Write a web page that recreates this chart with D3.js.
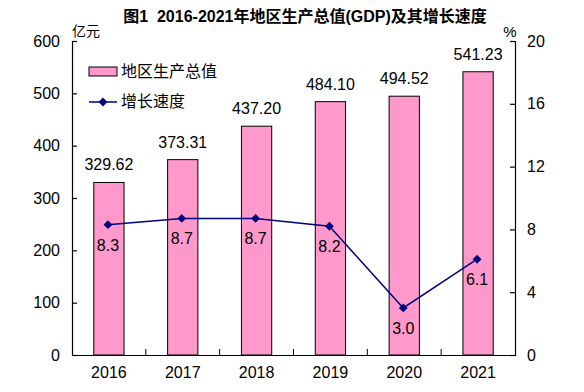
<!DOCTYPE html>
<html>
<head>
<meta charset="utf-8">
<script src="https://cdn.jsdelivr.net/npm/d3@7"></script>
<style>
body { margin: 0; background: #fff; }
text { font-family: "Liberation Sans", Arial, "Noto Sans CJK SC", sans-serif; }
.cjk { font-family: "Liberation Sans", "Noto Sans CJK SC", sans-serif; white-space: pre; }
</style>
</head>
<body>
<div id="chart"></div>
<script>
// data
const years = ["2016", "2017", "2018", "2019", "2020", "2021"];
const gdp = [329.62, 373.31, 437.20, 484.10, 494.52, 541.23];
const growth = [8.3, 8.7, 8.7, 8.2, 3.0, 6.1];
const leftTicks = [0, 100, 200, 300, 400, 500, 600];
const rightTicks = [0, 4, 8, 12, 16, 20];

var w = 584, h = 392;
var plotL = 72, plotR = 515, plotT = 41, plotB = 355;

var svg = d3.select("#chart").append("svg")
    .attr("width", w)
    .attr("height", h);

var x = d3.scaleBand().domain(years).range([plotL, plotR]).padding(0);
var yL = d3.scaleLinear().domain([0, 600]).range([plotB, plotT]);
var yR = d3.scaleLinear().domain([0, 20]).range([plotB, plotT]);
var barW = x.bandwidth() * 0.41;

// title
svg.append("text")
    .attr("class", "cjk")
    .attr("x", 305).attr("y", 22)
    .attr("text-anchor", "middle")
    .attr("font-size", 16).attr("font-weight", "bold")
    .text("图1  2016-2021年地区生产总值(GDP)及其增长速度");

// unit labels
svg.append("text").attr("class", "cjk")
    .attr("x", 72).attr("y", 36)
    .attr("font-size", 14)
    .text("亿元");
svg.append("text")
    .attr("x", 510).attr("y", 37)
    .attr("text-anchor", "middle")
    .attr("font-size", 15)
    .text("%");

// bars
svg.selectAll("rect.bar")
    .data(gdp)
    .enter().append("rect")
    .attr("class", "bar")
    .attr("x", (d, i) => x(years[i]) + x.bandwidth() / 2 - barW / 2)
    .attr("y", d => yL(d))
    .attr("width", barW)
    .attr("height", d => yL(0) - yL(d))
    .attr("fill", "#ff99cc")
    .attr("stroke", "#000")
    .attr("stroke-width", 1);

svg.selectAll("text.barlab")
    .data(gdp)
    .enter().append("text")
    .attr("class", "barlab")
    .attr("x", (d, i) => x(years[i]) + x.bandwidth() / 2)
    .attr("y", d => yL(d) - 12)
    .attr("text-anchor", "middle")
    .attr("font-size", 16)
    .text(d => d.toFixed(2));

// axes
var axisL = d3.axisLeft(yL).tickValues(leftTicks).tickSizeInner(-5).tickSizeOuter(-5).tickPadding(12);
svg.append("g")
    .attr("transform", "translate(" + plotL + ",0)")
    .call(axisL)
    .call(g => g.selectAll("text").attr("font-size", 16).attr("font-family", "Liberation Sans, Arial"));

var axisR = d3.axisRight(yR).tickValues(rightTicks).tickSizeInner(-5).tickSizeOuter(-5).tickPadding(12);
svg.append("g")
    .attr("transform", "translate(" + plotR + ",0)")
    .call(axisR)
    .call(g => g.selectAll("text").attr("font-size", 16).attr("font-family", "Liberation Sans, Arial"));

var axisB = d3.axisBottom(x).tickSize(0).tickPadding(12);
svg.append("g")
    .attr("transform", "translate(0," + plotB + ")")
    .call(axisB)
    .call(g => g.selectAll("text").attr("font-size", 16).attr("font-family", "Liberation Sans, Arial"));

// category dividers on x axis
svg.selectAll("line.div")
    .data(years.slice(1))
    .enter().append("line")
    .attr("class", "div")
    .attr("x1", d => x(d)).attr("x2", d => x(d))
    .attr("y1", plotB).attr("y2", plotB - 6)
    .attr("stroke", "#000");

svg.selectAll(".domain, .tick line").attr("stroke", "#000").attr("stroke-width", 1.2);

// growth line
var cx = i => x(years[i]) + x.bandwidth() / 2 - 1;
var line = d3.line()
    .x((d, i) => cx(i))
    .y(d => yR(d));
svg.append("path")
    .datum(growth)
    .attr("d", line)
    .attr("fill", "none")
    .attr("stroke", "#000080")
    .attr("stroke-width", 1.5);

var diamond = d3.symbol().type(d3.symbolDiamond2).size(50);
svg.selectAll("path.pt")
    .data(growth)
    .enter().append("path")
    .attr("class", "pt")
    .attr("d", diamond)
    .attr("transform", (d, i) => "translate(" + cx(i) + "," + yR(d) + ")")
    .attr("fill", "#000080");

svg.selectAll("text.ptlab")
    .data(growth)
    .enter().append("text")
    .attr("class", "ptlab")
    .attr("x", (d, i) => cx(i))
    .attr("y", d => yR(d) + 26)
    .attr("text-anchor", "middle")
    .attr("font-size", 16)
    .text(d => d.toFixed(1));

// legend
var lg = svg.append("g");
lg.append("rect")
    .attr("x", 89).attr("y", 67).attr("width", 28).attr("height", 9)
    .attr("fill", "#ff99cc").attr("stroke", "#000");
lg.append("text").attr("class", "cjk")
    .attr("x", 121).attr("y", 77).attr("font-size", 16)
    .text("地区生产总值");
lg.append("line")
    .attr("x1", 89).attr("x2", 117).attr("y1", 102).attr("y2", 102)
    .attr("stroke", "#000080").attr("stroke-width", 1.5);
lg.append("path")
    .attr("d", diamond)
    .attr("transform", "translate(103,102)")
    .attr("fill", "#000080");
lg.append("text").attr("class", "cjk")
    .attr("x", 121).attr("y", 107).attr("font-size", 16)
    .text("增长速度");
</script>
</body>
</html>
